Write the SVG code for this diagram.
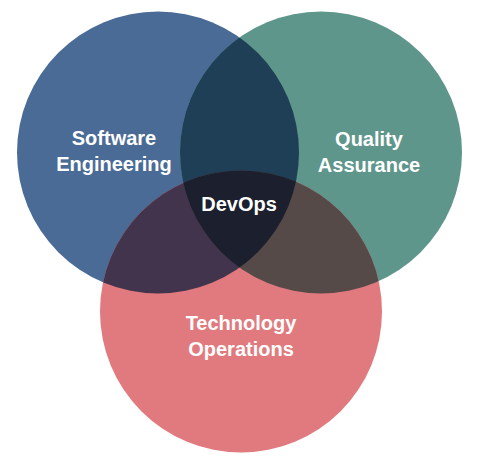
<svg xmlns="http://www.w3.org/2000/svg" width="478" height="464" viewBox="0 0 478 464">
  <style>
    .label { font-family: "Liberation Sans", Arial, sans-serif; font-weight: bold; font-size: 20px; fill: #ffffff; text-anchor: middle; }
  </style>
  <defs>
    <clipPath id="clip-se"><circle cx="158" cy="152.5" r="141"/></clipPath>
    <clipPath id="clip-qa"><circle cx="321" cy="152.5" r="141"/></clipPath>
    <clipPath id="clip-to"><circle cx="241" cy="311.5" r="141"/></clipPath>
  </defs>
  <rect width="478" height="464" fill="#ffffff"/>

  <!-- base circles -->
  <g id="software-engineering">
    <circle cx="158" cy="152.5" r="141" fill="#4a6b96"/>
  </g>
  <g id="quality-assurance">
    <circle cx="321" cy="152.5" r="141" fill="#5f968c"/>
  </g>
  <g id="technology-operations">
    <circle cx="241" cy="311.5" r="141" fill="#e17a7e"/>
  </g>

  <!-- pairwise overlaps -->
  <g id="overlaps">
    <g clip-path="url(#clip-se)">
      <circle cx="321" cy="152.5" r="141" fill="#1e3f55"/>
      <circle cx="241" cy="311.5" r="141" fill="#42344c"/>
    </g>
    <g clip-path="url(#clip-qa)">
      <circle cx="241" cy="311.5" r="141" fill="#564a48"/>
    </g>
  </g>

  <!-- triple overlap -->
  <g id="devops">
    <g clip-path="url(#clip-se)">
      <g clip-path="url(#clip-qa)">
        <circle cx="241" cy="311.5" r="141" fill="#1b1f2e"/>
      </g>
    </g>
  </g>

  <!-- labels -->
  <g id="labels">
    <text class="label" x="114" y="145">Software</text>
    <text class="label" x="114" y="171">Engineering</text>
    <text class="label" x="369" y="146">Quality</text>
    <text class="label" x="369" y="172">Assurance</text>
    <text class="label" x="239" y="211">DevOps</text>
    <text class="label" x="241" y="330">Technology</text>
    <text class="label" x="241" y="356">Operations</text>
  </g>
</svg>
